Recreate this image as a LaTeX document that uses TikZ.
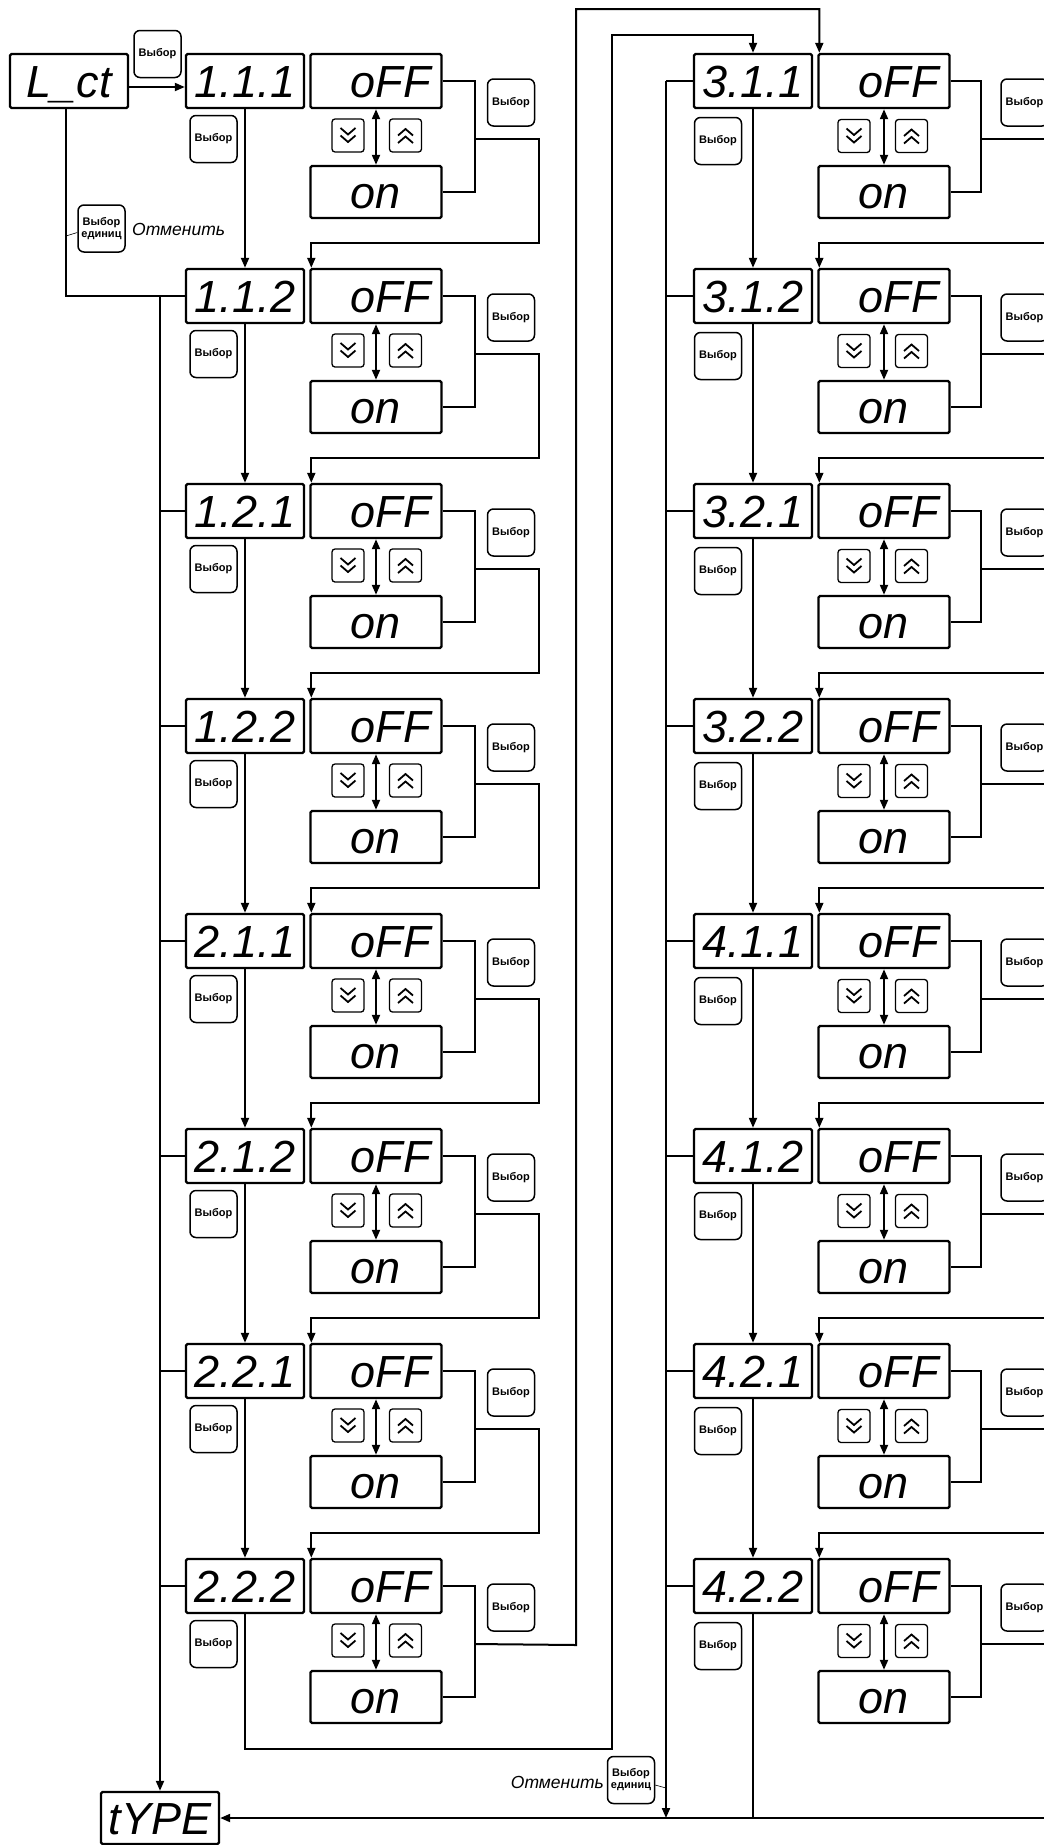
\documentclass[tikz,border=0pt]{standalone}
\usepackage{fontspec}
\setmainfont{Liberation Sans}
\usetikzlibrary{arrows.meta,calc}
\begin{document}
\begin{tikzpicture}[x=1pt,y=-1pt,
  >={Triangle[length=10pt,width=8pt]},
  disp/.style={draw, line width=2.4pt, rounded corners=1.5pt, inner sep=0pt,
    minimum width=118pt, minimum height=54pt, text height=32pt, text depth=0pt,
    font=\fontsize{45}{45}\selectfont\itshape},
  valbox/.style={disp, minimum width=131pt},
  onbox/.style={valbox, minimum height=52pt},
  btn/.style={draw, line width=1.5pt, rounded corners=6pt, inner sep=0pt,
    minimum width=47pt, minimum height=47pt, align=center,
    font=\fontsize{11}{12}\selectfont\bfseries},
  chev/.style={draw, line width=1.3pt, rounded corners=3pt, inner sep=0pt,
    minimum width=32pt, minimum height=33pt},
  conn/.style={line width=2pt},
  arr/.style={conn, ->},
  darr/.style={conn, <->},
  chevline/.style={line width=1.8pt},
  lead/.style={line width=0.6pt},
  note/.style={font=\fontsize{17.5}{18}\selectfont\itshape, inner sep=0pt},
]
\useasboundingbox (0,0) rectangle (1044,1845);
\clip (0,0) rectangle (1044,1845);

% start and end displays
\node[disp] (lct) at (69,81) {L\_ct};
\node[btn] (b0) at (157.5,54) {Выбор};
\node[disp, minimum height=52pt] (tp) at (160,1818) {tYPE};
\coordinate (busR) at (666,0);

% left column nodes
\foreach \lab [count=\r from 0] in {1.1.1,1.1.2,1.2.1,1.2.2,2.1.1,2.1.2,2.2.1,2.2.2}{
  \pgfmathsetmacro{\T}{54+215*\r}
  \node[disp] (iL\r) at (245,\T+27) {\lab};
  \node[valbox] (oL\r) at (376,\T+27) {\makebox[51pt][l]{oFF}};
  \node[onbox] (nL\r) at (376,\T+138) {\makebox[51pt][l]{on}};
  \node[btn] (bL\r) at (213.5,\T+85) {Выбор};
  \node[btn] (rL\r) at (511,\T+48.5) {Выбор};
  \node[chev] (dL\r) at (348,\T+81.5) {};
  \node[chev] (uL\r) at (405.5,\T+81.5) {};
  \coordinate (jL\r) at (474.5,\T+85);
}
% right column nodes
\foreach \lab [count=\r from 0] in {3.1.1,3.1.2,3.2.1,3.2.2,4.1.1,4.1.2,4.2.1,4.2.2}{
  \pgfmathsetmacro{\T}{54+215*\r}
  \node[disp] (iR\r) at (753,\T+27) {\lab};
  \node[valbox] (oR\r) at (884,\T+27) {\makebox[51pt][l]{oFF}};
  \node[onbox] (nR\r) at (884,\T+138) {\makebox[51pt][l]{on}};
  \node[btn] (bR\r) at (718,\T+87) {Выбор};
  \node[btn] (rR\r) at (1024.5,\T+48.5) {Выбор};
  \node[chev] (dR\r) at (854,\T+82) {};
  \node[chev] (uR\r) at (911.5,\T+82) {};
  \coordinate (jR\r) at (981,\T+85);
  \coordinate (xR\r) at (1050,\T+85);
  \coordinate (eR\r) at (1050,\T-26);
}

% per-row drawing
\foreach \c in {L,R}{
  \foreach \r in {0,...,7}{
    \draw[chevline] ($(d\c\r)+(-7.5,-7.5)$) -- ++(7.5,6.5) -- ++(7.5,-6.5);
    \draw[chevline] ($(d\c\r)+(-7.5,0)$) -- ++(7.5,6.5) -- ++(7.5,-6.5);
    \draw[chevline] ($(u\c\r)+(-7.5,7.5)$) -- ++(7.5,-6.5) -- ++(7.5,6.5);
    \draw[chevline] ($(u\c\r)+(-7.5,0)$) -- ++(7.5,-6.5) -- ++(7.5,6.5);
    \draw[darr] (o\c\r.south) -- (n\c\r.north);
    \draw[conn] (o\c\r.east) -- (o\c\r.east -| j\c\r) |- (n\c\r.east);
  }
  \foreach \r in {0,...,6}{
    \pgfmathtruncatemacro{\nx}{\r+1}
    \draw[arr] (i\c\r.south) -- (i\c\nx.north);
  }
}
\foreach \r in {0,...,6}{
  \pgfmathtruncatemacro{\nx}{\r+1}
  \pgfmathsetmacro{\T}{54+215*\r}
  \draw[arr] (jL\r) -- (539,\T+85) -- (539,\T+189) -| ($(oL\nx.north west)+(2,0)$);
}
\foreach \r in {1,...,7}{
  \draw[conn] (iL\r.west -| tp.north) -- (iL\r.west);
  \draw[arr] (eR\r) -| ($(oR\r.north west)+(2,0)$);
}
\foreach \r in {0,...,7}{
  \draw[conn] (jR\r) -- (xR\r);
  \draw[conn] (iR\r.west -| busR) -- (iR\r.west);
}

% left connections
\draw[arr] ([yshift=-6pt]lct.east) -- ([yshift=-6pt]iL0.west);
\draw[conn] ([xshift=-3pt]lct.south) |- (iL1.west);
\draw[arr] (iL1.west -| tp.north) -- (tp.north);

% cancel button (left)
\node[btn] (ceL) at (101.5,228.5) {Выбор\\единиц};
\node[note, anchor=west] (txL) at (132,229) {Отменить};
\coordinate (lkL) at (66,236);
\draw[lead] (lkL) -- ([yshift=-4pt]ceL.west);

% transitions from 2.2.2 to 3.1.1
\draw[arr] (iL7.south) |- (612,1749) -- (612,35) -| (iR0.north);
\draw[arr] (jL7) -- (576,1645) -- (576,9) -| ($(oR0.north west)+(2,0)$);

% right bus and bottom line
\draw[arr] (iR0.west -| busR) -- (busR |- tp.east);
\draw[conn] (iR7.south) -- (iR7.south |- tp.east);
\coordinate (edgeB) at (1050,1818);
\draw[arr] (edgeB) -- (tp.east);

% cancel button (right)
\node[btn] (ceR) at (631,1780) {Выбор\\единиц};
\node[note, anchor=east] (txR) at (604,1782) {Отменить};
\coordinate (lkR) at (666,1788);
\draw[lead] ([yshift=-5pt]ceR.east) -- (lkR);
\end{tikzpicture}
\end{document}
